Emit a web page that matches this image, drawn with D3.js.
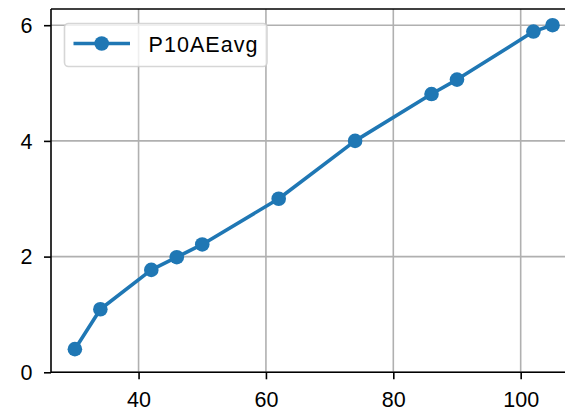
<!DOCTYPE html>
<html><head><meta charset="utf-8">
<script src="https://cdn.jsdelivr.net/npm/d3@7"></script>
<style>
html,body{margin:0;padding:0;background:#fff;overflow:hidden;}
text{font-family:"Liberation Sans",Arial,sans-serif;}
</style></head>
<body>
<svg id="c" width="565" height="412"></svg>
<script>
const xValues = [30, 34, 42, 46, 50, 62, 74, 86, 90, 102, 105];
const yValues = [0.40, 1.09, 1.77, 1.99, 2.21, 3.00, 4.00, 4.81, 5.06, 5.89, 6.00];
const seriesName = "P10AEavg";
const xTicks = [40, 60, 80, 100];
const yTicks = [0, 2, 4, 6];

(function(){
const svg = d3.select("#c");
const FONT = '"Liberation Sans",Arial,sans-serif';
const FS = 21.5;
const R = 7.3, LW = 3.6;
const pL = 51, pR = 576.4, pT = 9, pB = 372.3;
const x = d3.scaleLinear().domain([26.25, 108.75]).range([pL, pR]);
const y = d3.scaleLinear().domain([0, 6.28]).range([pB, pT]);
const blue = "#1f77b4";

// grid
const g = svg.append("g");
g.selectAll(".gx").data(xTicks).enter().append("line")
  .attr("x1", d => x(d)).attr("x2", d => x(d)).attr("y1", pT).attr("y2", pB)
  .attr("stroke", "#b0b0b0").attr("stroke-width", 1.6);
g.selectAll(".gy").data(yTicks).enter().append("line")
  .attr("y1", d => y(d)).attr("y2", d => y(d)).attr("x1", pL).attr("x2", pR)
  .attr("stroke", "#b0b0b0").attr("stroke-width", 1.6);

// line + markers
const pts = xValues.map((v, i) => [v, yValues[i]]);
svg.append("path").datum(pts)
  .attr("d", d3.line().x(d => x(d[0])).y(d => y(d[1])))
  .attr("fill", "none").attr("stroke", blue).attr("stroke-width", LW)
  .attr("stroke-linejoin", "round").attr("stroke-linecap", "square");
svg.selectAll(".pt").data(pts).enter().append("circle")
  .attr("cx", d => x(d[0])).attr("cy", d => y(d[1])).attr("r", R).attr("fill", blue);

// axes
const xAxis = d3.axisBottom(x).tickValues(xTicks).tickSize(7).tickPadding(6).tickFormat(d3.format("d"));
const yAxis = d3.axisLeft(y).tickValues(yTicks).tickSize(7).tickPadding(11.5).tickFormat(d3.format("d"));
const ax = svg.append("g").attr("transform", `translate(0,${pB})`).call(xAxis);
const ay = svg.append("g").attr("transform", `translate(${pL},0)`).call(yAxis);
[ax, ay].forEach(a => {
  a.select(".domain").remove();
  a.selectAll(".tick line").attr("stroke", "#000").attr("stroke-width", 1.6);
  a.selectAll(".tick text").attr("fill", "#000").attr("font-size", FS)
    .attr("font-family", FONT);
});
ax.selectAll(".tick text").attr("y", 34.8).attr("dy", 0);
ay.selectAll(".tick text").attr("dy", "0.34em");

// spines
svg.append("line").attr("x1", pL).attr("x2", pL).attr("y1", pT).attr("y2", pB)
  .attr("stroke", "#000").attr("stroke-width", 1.6);
svg.append("line").attr("x1", pL).attr("x2", pR).attr("y1", pB).attr("y2", pB)
  .attr("stroke", "#000").attr("stroke-width", 1.6);
svg.append("line").attr("x1", pL).attr("x2", pR).attr("y1", pT).attr("y2", pT)
  .attr("stroke", "#000").attr("stroke-width", 1.6);

// legend
const lg = svg.append("g");
lg.append("rect").attr("x", 64.5).attr("y", 23.5).attr("width", 202.5).attr("height", 43)
  .attr("rx", 4).attr("fill", "#fff").attr("fill-opacity", 0.8)
  .attr("stroke", "#cccccc").attr("stroke-opacity", 0.8).attr("stroke-width", 1.6);
lg.append("line").attr("x1", 73.5).attr("x2", 130).attr("y1", 43.5).attr("y2", 43.5)
  .attr("stroke", blue).attr("stroke-width", LW);
lg.append("circle").attr("cx", 101.7).attr("cy", 43.5).attr("r", R).attr("fill", blue);
lg.append("text").attr("x", 148.5).attr("y", 52.3).attr("font-size", FS).attr("fill", "#000")
  .attr("font-family", FONT).attr("textLength", 109).attr("lengthAdjust", "spacing")
  .text(seriesName);
})();
</script>
</body></html>
